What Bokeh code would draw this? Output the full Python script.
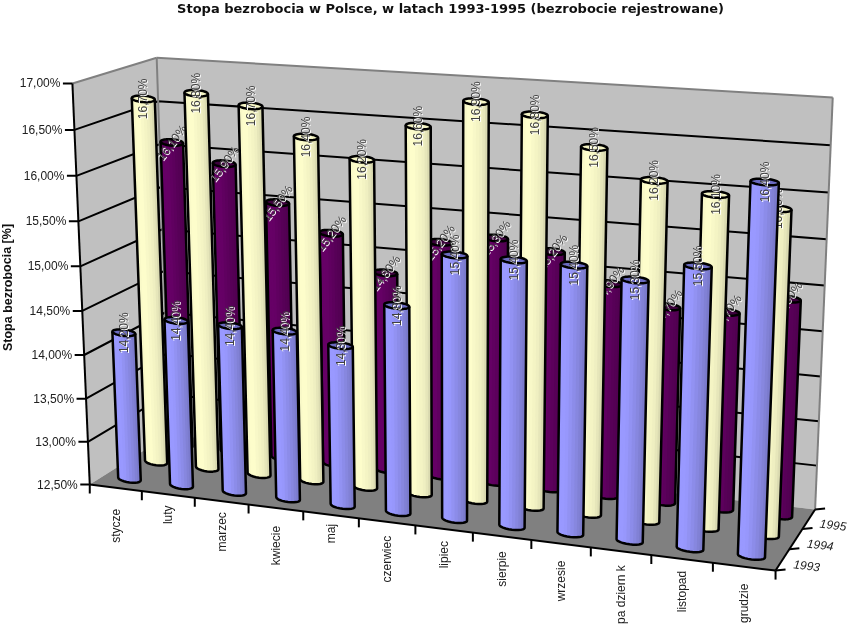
import numpy as np
from bokeh.plotting import figure
from bokeh.models import Range1d
from bokeh.embed import file_html
from bokeh.resources import INLINE
from bokeh.core.properties import value

TITLE = "Stopa bezrobocia w Polsce, w latach 1993-1995 (bezrobocie rejestrowane)"
Y_TITLE = "Stopa bezrobocia [%]"
MONTHS = ["stycze", "luty", "marzec", "kwiecie", "maj", "czerwiec", "lipiec", "sierpie", "wrzesie", "pa dziern k", "listopad", "grudzie"]
YEARS = ["1993", "1994", "1995"]
Y_TICKS = [12.5, 13.0, 13.5, 14.0, 14.5, 15.0, 15.5, 16.0, 16.5, 17.0]
Y_TICK_LABELS = ["12,50%", "13,00%", "13,50%", "14,00%", "14,50%", "15,00%", "15,50%", "16,00%", "16,50%", "17,00%"]
V1993 = [14.2, 14.4, 14.4, 14.4, 14.3, 14.8, 15.4, 15.4, 15.4, 15.3, 15.5, 16.4]
V1994 = [16.7, 16.8, 16.7, 16.4, 16.2, 16.6, 16.9, 16.8, 16.5, 16.2, 16.1, 16.0]
V1995 = [16.1, 15.9, 15.5, 15.2, 14.8, 15.2, 15.3, 15.2, 14.9, 14.7, 14.7, 14.9]

VMIN, VMAX = 12.5, 17.0

# projection of the chart's 3-D box (u along months, w along years, h along values)
CALIB = [
    ((0, 0, 0), (88, 483)), ((1, 0, 0), (775, 571)), ((0, 1, 0), (170, 435)), ((1, 1, 0), (815, 508)),
    ((0, 0, 1), (73, 83)), ((0, 1, 1), (155, 57)), ((1, 1, 1), (833, 97)),
    ((0.5, 0, 0), (415, 525)), ((0, 0, 5 / 9), (80, 266)), ((1, 1, 5 / 9), (823, 285)),
]
A, b = [], []
for (u, w, h), (x, y) in CALIB:
    A.append([u, w, h, 1, 0, 0, 0, 0, -x * u, -x * w, -x * h]); b.append(x)
    A.append([0, 0, 0, 0, u, w, h, 1, -y * u, -y * w, -y * h]); b.append(y)
P = np.linalg.lstsq(np.array(A, float), np.array(b, float), rcond=None)[0]


def proj(u, w, v):
    h = (v - VMIN) / (VMAX - VMIN)
    d = P[8] * u + P[9] * w + P[10] * h + 1
    return np.array([(P[0] * u + P[1] * w + P[2] * h + P[3]) / d, (P[4] * u + P[5] * w + P[6] * h + P[7]) / d])


p = figure(width=851, height=628, x_range=Range1d(0, 851), y_range=Range1d(628, 0),
           toolbar_location=None, output_backend="svg", min_border=0, outline_line_color=None,
           background_fill_color="white", border_fill_color="white")
p.styles = {"position": "fixed", "left": "0", "top": "0"}
p.axis.visible = False
p.grid.visible = False

FONT = "Liberation Sans"


def poly(pts, **kw):
    pts = np.array(pts)
    p.patch(pts[:, 0], pts[:, 1], **kw)


def line(a, b, color="black", width=2):
    p.line([a[0], b[0]], [a[1], b[1]], line_color=color, line_width=width)


# walls and floor
WALL, EDGE, FLOOR = "#c0c0c0", "#808080", "#808080"
poly([proj(0, 0, VMIN), proj(0, 1, VMIN), proj(0, 1, VMAX), proj(0, 0, VMAX)], fill_color=WALL, line_color=None)
poly([proj(0, 1, VMIN), proj(1, 1, VMIN), proj(1, 1, VMAX), proj(0, 1, VMAX)], fill_color=WALL, line_color=None)
poly([proj(0, 0, VMIN), proj(1, 0, VMIN), proj(1, 1, VMIN), proj(0, 1, VMIN)], fill_color=FLOOR, line_color=None)

for t in Y_TICKS[1:-1]:
    a, c, d = proj(0, 0, t), proj(0, 1, t), proj(1, 1, t)
    p.line([a[0], c[0], d[0]], [a[1], c[1], d[1]], line_color="black", line_width=2)
line(proj(0, 0, VMAX), proj(0, 1, VMAX), EDGE)
line(proj(0, 1, VMAX), proj(1, 1, VMAX), EDGE)
line(proj(1, 1, VMAX), proj(1, 1, VMIN), EDGE)
line(proj(0, 1, VMAX), proj(0, 1, VMIN), EDGE)

# value axis
line(proj(0, 0, VMAX), proj(0, 0, VMIN))
for t, lab in zip(Y_TICKS, Y_TICK_LABELS):
    a = proj(0, 0, t)
    line(a, a + np.array([-9.5, 0]))
    p.text([a[0] - 12], [a[1]], text=[lab], text_font=value(FONT), text_font_size="12px", text_color="#202020",
           text_align="right", text_baseline="middle")

# month axis
line(proj(0, 0, VMIN), proj(1, 0, VMIN))
LABEL_GAP = [21, 11, 11, 18, 9, 14, 12, 15, 17, 14, 12, 17]
for i in range(13):
    a = proj(i / 12, 0, VMIN)
    line(a, a + np.array([0, 9]))
for i, m in enumerate(MONTHS):
    a = proj((i + 0.5) / 12, 0, VMIN)
    p.text([a[0]], [a[1] + LABEL_GAP[i]], text=[m], angle=[np.pi / 2], text_font=value(FONT), text_font_size="12px",
           text_color="#202020", text_align="right", text_baseline="middle")

# year axis
line(proj(1, 0, VMIN), proj(1, 1, VMIN))
for j in range(4):
    a = proj(1, j / 3, VMIN)
    line(a, a + np.array([10, -1]))
for j, y in enumerate(YEARS):
    a = proj(1, (j + 0.5) / 3, VMIN)
    p.text([a[0] + 11], [a[1] + 4], text=[y], angle=[np.radians(-7)], text_font=value(FONT), text_font_size="12px",
           text_font_style="italic", text_color="#202020", text_align="left", text_baseline="middle")

p.text([450], [8], text=[TITLE], text_font=value("DejaVu Sans"), text_font_size="13px", text_font_style="bold",
       text_color="#101010", text_align="center", text_baseline="middle")
p.text([7], [287], text=[Y_TITLE], angle=[np.pi / 2], text_font=value(FONT), text_font_size="12.5px", text_font_style="bold",
       text_color="#101010", text_align="center", text_baseline="middle")


def ramp(stops, n):
    stops = np.array([[int(s[i:i + 2], 16) for i in (1, 3, 5)] for s in stops], float)
    xs = np.linspace(0, 1, len(stops))
    out = []
    for t in np.linspace(0, 1, n):
        out.append("#%02x%02x%02x" % tuple(int(round(np.interp(t, xs, stops[:, k]))) for k in range(3)))
    return out


RU = 12.5 / 687
NS = 12
TH = np.linspace(np.pi, 0, NS + 1)
FULL = np.linspace(0, 2 * np.pi, 41)
SERIES = [
    (V1995, 2, ramp(["#660066", "#660066", "#560056", "#4c004c"], NS), "#3c003c", np.radians(52)),
    (V1994, 1, ramp(["#f2f2c4", "#ffffcc", "#ededc0", "#c4c49e"], NS), "#f4f4c4", np.pi / 2),
    (V1993, 0, ramp(["#9999ff", "#9999ff", "#8585dc", "#6e6eb8"], NS), "#6a6ac0", np.pi / 2),
]


def ring(u, w, v, minor, th):
    c = proj(u, w, v)
    e = proj(u + RU, w, v)
    ax = e - c
    return np.stack([c[0] + np.cos(t) * ax[0] for t in th]), np.stack([c[1] + np.cos(t) * ax[1] + np.sin(t) * minor for t in th])


for vals, j, cols, capcol, ang in SERIES:
    w = (j + 0.5) / 3
    for i, val in enumerate(vals):
        u = (i + 0.5) / 12
        bx, by = ring(u, w, VMIN, 3.5, TH)
        tx, ty = ring(u, w, val, 3.2, TH)
        for k in range(NS):
            # each strip reaches to the right edge, the next one paints over it, so no seams show
            p.patch(list(tx[k:]) + list(bx[k:][::-1]), list(ty[k:]) + list(by[k:][::-1]),
                    fill_color=cols[k], line_color=None)
        p.line(list(tx[:1]) + list(bx) + list(tx[-1:]), list(ty[:1]) + list(by) + list(ty[-1:]), line_color="black", line_width=2.5)
        cx, cy = ring(u, w, val, 3.2, FULL)
        p.patch(cx, cy, fill_color=capcol, line_color="black", line_width=2.5)
    for i, val in enumerate(vals):
        c = proj((i + 0.5) / 12, w, val)
        lab = ("%.2f%%" % val).replace(".", ",")
        p.text([c[0] + 1], [c[1] + 1], text=[lab], angle=[ang], text_font=value(FONT), text_font_size="12px",
               text_color="#ffffff", text_align="center", text_baseline="middle")
        p.text([c[0]], [c[1]], text=[lab], angle=[ang], text_font=value(FONT), text_font_size="12px",
               text_color="#404040", text_align="center", text_baseline="middle")

open("out.html", "w").write(file_html(p, INLINE))
